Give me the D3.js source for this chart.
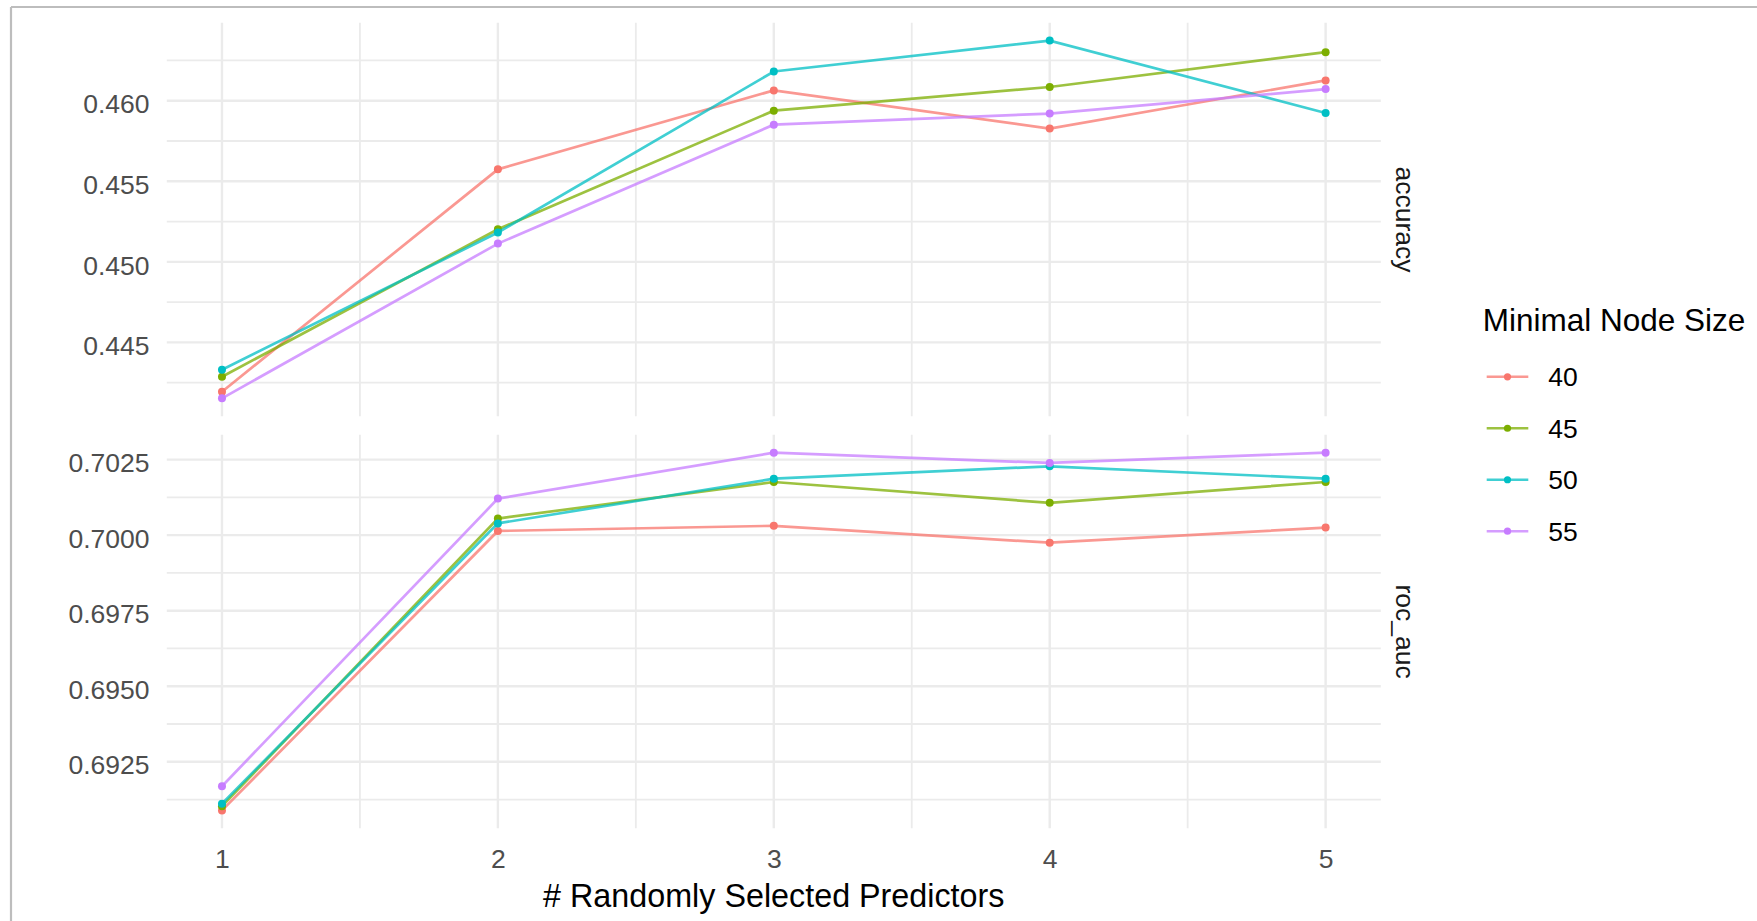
<!DOCTYPE html>
<html>
<head>
<meta charset="utf-8">
<script src="https://cdn.jsdelivr.net/npm/d3@7"></script>
<style>
  html, body { margin: 0; padding: 0; background: #fff; }
  svg { display: block; }
  text { font-family: "Liberation Sans", Arial, sans-serif; }
</style>
</head>
<body>
<svg id="chart" width="1757" height="921"></svg>
<script>
// ---- data ----
const mtry = [1, 2, 3, 4, 5];
const nodeSizes = ["40", "45", "50", "55"];
const seriesColors = ["#F8766D", "#7CAE00", "#00BFC4", "#C77CFF"];

const accuracy40 = [0.44194, 0.45574, 0.46064, 0.45827, 0.46126];
const accuracy45 = [0.44287, 0.45202, 0.45938, 0.46085, 0.46301];
const accuracy50 = [0.44330, 0.45182, 0.46181, 0.46373, 0.45924];
const accuracy55 = [0.44153, 0.45113, 0.45851, 0.45920, 0.46072];

const rocAuc40 = [0.69089, 0.70014, 0.70031, 0.69975, 0.70025];
const rocAuc45 = [0.69103, 0.70055, 0.70176, 0.70107, 0.70176];
const rocAuc50 = [0.69111, 0.70039, 0.70187, 0.70228, 0.70187];
const rocAuc55 = [0.69169, 0.70121, 0.70273, 0.70239, 0.70273];

const accuracyTicks = [0.445, 0.450, 0.455, 0.460];
const rocAucTicks = [0.6925, 0.6950, 0.6975, 0.7000, 0.7025];
const facetLabels = ["accuracy", "roc_auc"];
const xTitle = "# Randomly Selected Predictors";
const legendTitle = "Minimal Node Size";

// ---- layout ----
const svg = d3.select("#chart");
const panelLeft = 166.8, panelRight = 1380.8;
const panels = [
  { top: 22.7, bottom: 416.2, label: facetLabels[0], series: [accuracy40, accuracy45, accuracy50, accuracy55], ticks: accuracyTicks, fmt: d3.format(".3f") },
  { top: 434.8, bottom: 828.3, label: facetLabels[1], series: [rocAuc40, rocAuc45, rocAuc50, rocAuc55], ticks: rocAucTicks, fmt: d3.format(".4f") }
];

const x = d3.scaleLinear().domain([0.8, 5.2]).range([panelLeft, panelRight]);
const gridColor = "#EBEBEB";
const smallFont = 26.5;

// frame (screenshot border)
svg.append("line").attr("x1", 11).attr("x2", 1757).attr("y1", 7).attr("y2", 7)
  .attr("stroke", "#BDBDBD").attr("stroke-width", 2.2);
svg.append("line").attr("x1", 11).attr("x2", 11).attr("y1", 7).attr("y2", 921)
  .attr("stroke", "#BDBDBD").attr("stroke-width", 2.2);

const xMinor = [1.5, 2.5, 3.5, 4.5];

panels.forEach((p, pi) => {
  const all = p.series.flat();
  const lo = d3.min(all), hi = d3.max(all);
  const pad = (hi - lo) * 0.05;
  const y = d3.scaleLinear().domain([lo - pad, hi + pad]).range([p.bottom, p.top]);
  const g = svg.append("g");

  // minor horizontal grid
  const step = p.ticks[1] - p.ticks[0];
  const minors = [];
  for (let v = p.ticks[0] - step / 2; v <= y.domain()[1] + 1e-12; v += step) {
    if (v >= y.domain()[0]) minors.push(v);
  }
  g.selectAll(".hminor").data(minors).join("line")
    .attr("x1", panelLeft).attr("x2", panelRight)
    .attr("y1", d => y(d)).attr("y2", d => y(d))
    .attr("stroke", gridColor).attr("stroke-width", 1.8);
  g.selectAll(".vminor").data(xMinor).join("line")
    .attr("x1", d => x(d)).attr("x2", d => x(d))
    .attr("y1", p.top).attr("y2", p.bottom)
    .attr("stroke", gridColor).attr("stroke-width", 1.8);
  // major grid
  g.selectAll(".hmajor").data(p.ticks).join("line")
    .attr("x1", panelLeft).attr("x2", panelRight)
    .attr("y1", d => y(d)).attr("y2", d => y(d))
    .attr("stroke", gridColor).attr("stroke-width", 2.4);
  g.selectAll(".vmajor").data(mtry).join("line")
    .attr("x1", d => x(d)).attr("x2", d => x(d))
    .attr("y1", p.top).attr("y2", p.bottom)
    .attr("stroke", gridColor).attr("stroke-width", 2.4);

  // y axis labels
  const yAxis = d3.axisLeft(y).tickValues(p.ticks).tickFormat(p.fmt).tickSize(0).tickPadding(17.3);
  const ya = svg.append("g").attr("transform", `translate(${panelLeft},0)`).call(yAxis);
  ya.select(".domain").remove();
  ya.selectAll("text").attr("font-size", smallFont).attr("fill", "#4D4D4D")
    .attr("font-family", "'Liberation Sans', Arial, sans-serif").attr("dy", "0.46em");

  // series lines & points
  const line = d3.line().x((d, i) => x(mtry[i])).y(d => y(d));
  p.series.forEach((vals, si) => {
    g.append("path").datum(vals).attr("d", line)
      .attr("fill", "none").attr("stroke", seriesColors[si])
      .attr("stroke-width", 2.7).attr("stroke-opacity", 0.75);
    g.selectAll(null).data(vals).join("circle")
      .attr("cx", (d, i) => x(mtry[i])).attr("cy", d => y(d)).attr("r", 4)
      .attr("fill", seriesColors[si]);
  });

  // strip label
  svg.append("text")
    .attr("transform", `translate(1405,${(p.top + p.bottom) / 2}) rotate(90)`)
    .attr("text-anchor", "middle").attr("dy", "0.35em")
    .attr("font-size", smallFont).attr("fill", "#1A1A1A")
    .text(p.label);
});

// x axis labels
const xAxis = d3.axisBottom(x).tickValues(mtry).tickFormat(d3.format("d")).tickSize(0).tickPadding(21);
const xa = svg.append("g").attr("transform", `translate(0,${panels[1].bottom})`).call(xAxis);
xa.select(".domain").remove();
xa.selectAll("text").attr("font-size", smallFont).attr("fill", "#4D4D4D")
  .attr("font-family", "'Liberation Sans', Arial, sans-serif");

// x title
svg.append("text").attr("x", (panelLeft + panelRight) / 2).attr("y", 906.5)
  .attr("text-anchor", "middle").attr("font-size", 32.3).attr("fill", "#000")
  .text(xTitle);

// legend
const lg = svg.append("g");
lg.append("text").attr("x", 1482.7).attr("y", 330.7).attr("font-size", 31.5)
  .attr("fill", "#000").text(legendTitle);
const legendY = d3.scalePoint().domain(nodeSizes).range([376.8, 531.2]);
nodeSizes.forEach((n, i) => {
  const yy = legendY(n);
  lg.append("line").attr("x1", 1486.7).attr("x2", 1528.3).attr("y1", yy).attr("y2", yy)
    .attr("stroke", seriesColors[i]).attr("stroke-width", 2.4).attr("stroke-opacity", 0.75);
  lg.append("circle").attr("cx", 1507.5).attr("cy", yy).attr("r", 3.6).attr("fill", seriesColors[i]);
  lg.append("text").attr("x", 1548.3).attr("y", yy).attr("dy", "0.36em")
    .attr("font-size", smallFont).attr("fill", "#000").text(n);
});
</script>
</body>
</html>
